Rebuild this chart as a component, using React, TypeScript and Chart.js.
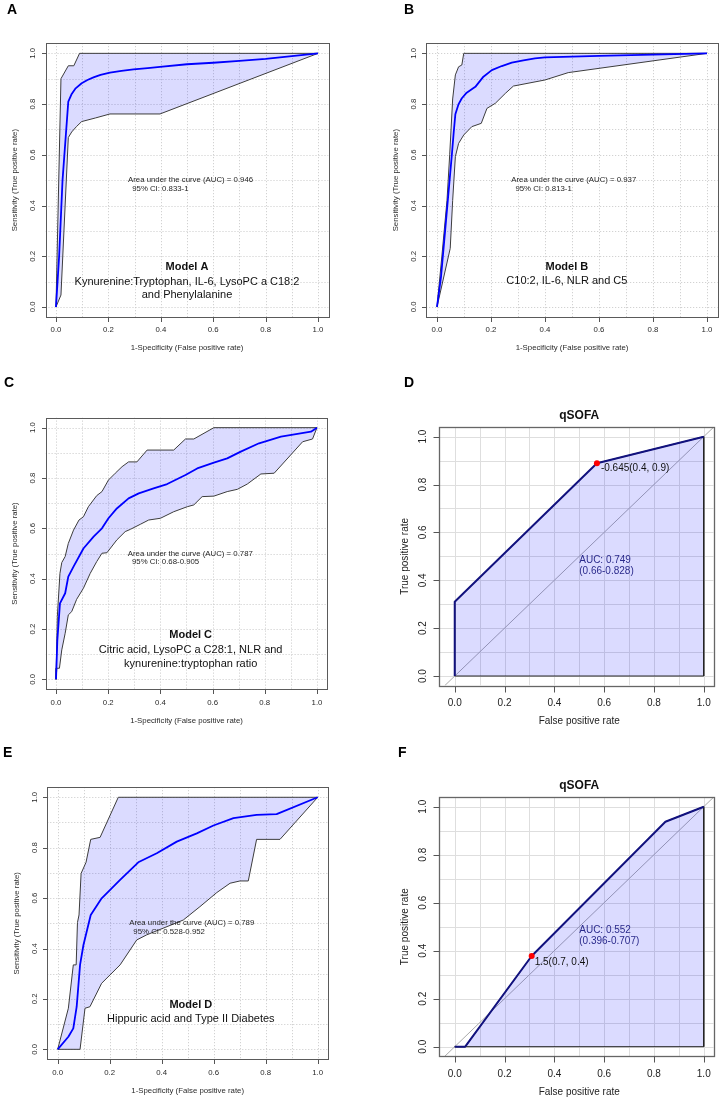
import React, { useEffect, useRef } from "react";
import { Chart, registerables } from "chart.js";
Chart.register(...registerables);

const SANS = '"Liberation Sans", Arial, Helvetica, sans-serif';
const PAGE_W = 724;
const PAGE_H = 1100;

// ---------- shared axis data ----------
const axisTicks = [0, 0.2, 0.4, 0.6, 0.8, 1.0];
const axisTickLabels = ["0.0", "0.2", "0.4", "0.6", "0.8", "1.0"];
const gridValues = [0, 0.1, 0.2, 0.3, 0.4, 0.5, 0.6, 0.7, 0.8, 0.9, 1.0];
const diagonalRef = [-0.04, 1.04];

// ---------- Model A ----------
const modelAMeanX = [0, 0.012, 0.025, 0.047, 0.06, 0.075, 0.098, 0.12, 0.143, 0.17, 0.206, 0.25, 0.296, 0.35, 0.397, 0.5, 0.6, 0.7, 0.8, 0.9, 1.0];
const modelAMeanY = [0, 0.2, 0.5, 0.81, 0.84, 0.862, 0.882, 0.895, 0.905, 0.915, 0.924, 0.931, 0.937, 0.942, 0.947, 0.957, 0.963, 0.97, 0.978, 0.989, 1.0];
const modelAUpperX = [0, 0.019, 0.047, 0.068, 0.09, 1.0];
const modelAUpperY = [0, 0.9, 0.951, 0.951, 1.0, 1.0];
const modelALowerX = [0, 0.019, 0.047, 0.06, 0.078, 0.098, 0.15, 0.206, 0.397, 1.0];
const modelALowerY = [0, 0.047, 0.668, 0.69, 0.711, 0.731, 0.745, 0.761, 0.761, 1.0];

// ---------- Model B ----------
const modelBMeanX = [0, 0.015, 0.03, 0.045, 0.055, 0.062, 0.068, 0.08, 0.092, 0.11, 0.142, 0.172, 0.203, 0.24, 0.277, 0.32, 0.363, 0.4, 0.5, 0.6, 0.8, 1.0];
const modelBMeanY = [0, 0.12, 0.3, 0.48, 0.6, 0.69, 0.76, 0.8, 0.823, 0.845, 0.868, 0.908, 0.934, 0.95, 0.963, 0.972, 0.98, 0.984, 0.987, 0.99, 0.995, 1.0];
const modelBUpperX = [0, 0.018, 0.037, 0.047, 0.058, 0.068, 0.08, 0.092, 0.099, 1.0];
const modelBUpperY = [0, 0.2, 0.42, 0.6, 0.82, 0.915, 0.947, 0.954, 1.0, 1.0];
const modelBLowerX = [0, 0.049, 0.058, 0.068, 0.08, 0.099, 0.129, 0.164, 0.185, 0.216, 0.253, 0.283, 0.4, 0.486, 1.0];
const modelBLowerY = [0, 0.231, 0.42, 0.593, 0.645, 0.678, 0.711, 0.724, 0.783, 0.803, 0.842, 0.871, 0.895, 0.924, 1.0];

// ---------- Model C ----------
const modelCMeanX = [0, 0.005, 0.015, 0.035, 0.047, 0.067, 0.105, 0.144, 0.176, 0.201, 0.233, 0.278, 0.317, 0.374, 0.426, 0.496, 0.541, 0.605, 0.656, 0.708, 0.778, 0.862, 0.977, 1.0];
const modelCMeanY = [0, 0.156, 0.302, 0.342, 0.408, 0.448, 0.52, 0.567, 0.6, 0.64, 0.679, 0.719, 0.739, 0.759, 0.776, 0.812, 0.838, 0.861, 0.878, 0.905, 0.938, 0.964, 0.984, 1.0];
const modelCUpperX = [0, 0.005, 0.015, 0.022, 0.035, 0.047, 0.067, 0.088, 0.105, 0.124, 0.156, 0.176, 0.201, 0.227, 0.253, 0.278, 0.31, 0.349, 0.451, 0.496, 0.528, 0.605, 1.0];
const modelCUpperY = [0, 0.25, 0.421, 0.464, 0.488, 0.54, 0.593, 0.633, 0.646, 0.686, 0.73, 0.746, 0.792, 0.819, 0.845, 0.864, 0.864, 0.911, 0.911, 0.955, 0.955, 1.0, 1.0];
const modelCLowerX = [0, 0.003, 0.013, 0.022, 0.035, 0.047, 0.06, 0.079, 0.105, 0.131, 0.156, 0.176, 0.195, 0.233, 0.265, 0.285, 0.323, 0.355, 0.4, 0.451, 0.503, 0.528, 0.56, 0.605, 0.656, 0.695, 0.733, 0.785, 0.836, 0.945, 0.983, 1.0];
const modelCLowerY = [0, 0.044, 0.044, 0.117, 0.183, 0.256, 0.269, 0.318, 0.362, 0.421, 0.468, 0.501, 0.503, 0.554, 0.587, 0.596, 0.616, 0.633, 0.64, 0.666, 0.686, 0.693, 0.726, 0.728, 0.746, 0.755, 0.776, 0.816, 0.819, 0.944, 0.955, 1.0];

// ---------- Model D (panel E) ----------
const modelDMeanX = [0, 0.041, 0.06, 0.073, 0.086, 0.099, 0.127, 0.169, 0.24, 0.31, 0.381, 0.458, 0.535, 0.599, 0.676, 0.765, 0.842, 1.0];
const modelDMeanY = [0, 0.05, 0.083, 0.169, 0.335, 0.414, 0.533, 0.599, 0.672, 0.742, 0.778, 0.824, 0.857, 0.888, 0.917, 0.93, 0.933, 1.0];
const modelDUpperX = [0, 0.041, 0.06, 0.071, 0.076, 0.082, 0.09, 0.109, 0.127, 0.163, 0.233, 1.0];
const modelDUpperY = [0, 0.163, 0.335, 0.335, 0.503, 0.533, 0.698, 0.742, 0.833, 0.841, 1.0, 1.0];
const modelDLowerX = [0, 0.086, 0.105, 0.124, 0.169, 0.24, 0.304, 0.342, 0.483, 0.547, 0.612, 0.663, 0.701, 0.733, 0.765, 0.855, 1.0];
const modelDLowerY = [0, 0, 0.163, 0.169, 0.262, 0.335, 0.434, 0.454, 0.513, 0.566, 0.622, 0.659, 0.668, 0.668, 0.833, 0.833, 1.0];

// ---------- qSOFA (panel D) ----------
const qsofaDFpr = [0, 0, 0.571, 1.0];
const qsofaDTpr = [0, 0.31, 0.889, 1.0];
const qsofaDBest = [0.571, 0.889];

// ---------- qSOFA (panel F) ----------
const qsofaFFpr = [0, 0.042, 0.309, 0.846, 1.0];
const qsofaFTpr = [0, 0, 0.378, 0.9375, 1.0];
const qsofaFBest = [0.309, 0.378];

// ---------- helpers ----------
const pts = (xs: number[], ys: number[]) => xs.map((x, i) => ({ x, y: ys[i] }));
const band = (ux: number[], uy: number[], lx: number[], ly: number[]) =>
  pts(ux, uy).concat(pts(lx, ly).reverse());
const underCurve = (xs: number[], ys: number[]) =>
  pts(xs, ys).concat([{ x: xs[xs.length - 1], y: 0 }, { x: xs[0], y: 0 }]);

const BAND_FILL = "rgba(0,0,255,0.14)";
const NAVY = "#12127e";

function cvDatasets(mx: number[], my: number[], ux: number[], uy: number[], lx: number[], ly: number[]) {
  return [
    { data: pts(mx, my), borderColor: "#0000ff", borderWidth: 1.8, fill: false, pointRadius: 0 },
    { data: band(ux, uy, lx, ly), borderColor: "#3c3c3c", borderWidth: 1, backgroundColor: BAND_FILL, fill: "shape", pointRadius: 0 },
  ];
}

function procDatasets(fx: number[], ty: number[], best: number[]) {
  return [
    { data: [{ x: best[0], y: best[1] }], showLine: false, pointRadius: 3, pointBackgroundColor: "#ff0000", pointBorderWidth: 0, borderColor: "#ff0000" },
    { data: pts(fx, ty), borderColor: NAVY, borderWidth: 2, fill: false, pointRadius: 0 },
    { data: underCurve(fx, ty), borderColor: "#222222", borderWidth: 1, backgroundColor: BAND_FILL, fill: "shape", pointRadius: 0 },
    { data: pts(diagonalRef, diagonalRef), borderColor: "#aaaaaa", borderWidth: 1, fill: false, pointRadius: 0 },
  ];
}

interface TextItem { text: string; x: number; y: number; dx?: number; dy?: number; font: string; color: string; align: CanvasTextAlign; }
interface Panel {
  id: string;
  box: { left: number; top: number; right: number; bottom: number };
  xMin: number; xMax: number; yMin: number; yMax: number;
  kind: "cv" | "proc";
  letter: string; letterX: number; letterY: number;
  title?: string;
  xTitle: string; yTitle: string;
  datasets: any[];
  texts: TextItem[];
}

const T = "#1e1e1e";
const small = `7.8px ${SANS}`;
const mid = `11px ${SANS}`;
const midB = `bold 11px ${SANS}`;
const pr = `10px ${SANS}`;
const AUCCOL = "#2a2a8c";

function cvTexts(auc: string, ci: string, mx: number, my: number, model: string, lines: string[], gaps: number[]): TextItem[] {
  const t: TextItem[] = [
    { text: auc, x: 0.275, y: 0.5, font: small, color: T, align: "left" },
    { text: " " + ci, x: 0.275, y: 0.5, dx: 2, dy: 8.3, font: small, color: T, align: "left" },
    { text: model, x: mx, y: my, font: midB, color: "#111", align: "center" },
  ];
  lines.forEach((l, i) => t.push({ text: l, x: mx, y: my, dy: gaps[i], font: mid, color: "#111", align: "center" }));
  return t;
}

const panels: Panel[] = [
  {
    id: "A",
    box: { left: 45.5, top: 43.2, right: 328.5, bottom: 317.1 },
    xMin: -0.04, xMax: 1.04, yMin: -0.04, yMax: 1.04, kind: "cv",
    letter: "A", letterX: 7, letterY: 10,
    xTitle: "1-Specificity (False positive rate)", yTitle: "Sensitivity (True positive rate)",
    datasets: cvDatasets(modelAMeanX, modelAMeanY, modelAUpperX, modelAUpperY, modelALowerX, modelALowerY),
    texts: cvTexts("Area under the curve (AUC) = 0.946", "95% CI: 0.833-1", 0.5, 0.159, "Model A",
      ["Kynurenine:Tryptophan, IL-6, LysoPC a C18:2", "and Phenylalanine"], [15, 28.5]),
  },
  {
    id: "B",
    box: { left: 426.2, top: 43.2, right: 717.8, bottom: 317.1 },
    xMin: -0.04, xMax: 1.04, yMin: -0.04, yMax: 1.04, kind: "cv",
    letter: "B", letterX: 404, letterY: 10,
    xTitle: "1-Specificity (False positive rate)", yTitle: "Sensitivity (True positive rate)",
    datasets: cvDatasets(modelBMeanX, modelBMeanY, modelBUpperX, modelBUpperY, modelBLowerX, modelBLowerY),
    texts: cvTexts("Area under the curve (AUC) = 0.937", "95% CI: 0.813-1", 0.481, 0.159, "Model B",
      ["C10:2, IL-6, NLR and C5"], [14]),
  },
  {
    id: "C",
    box: { left: 45.6, top: 417.6, right: 327.4, bottom: 689.4 },
    xMin: -0.04, xMax: 1.04, yMin: -0.04, yMax: 1.04, kind: "cv",
    letter: "C", letterX: 4, letterY: 383,
    xTitle: "1-Specificity (False positive rate)", yTitle: "Sensitivity (True positive rate)",
    datasets: cvDatasets(modelCMeanX, modelCMeanY, modelCUpperX, modelCUpperY, modelCLowerX, modelCLowerY),
    texts: cvTexts("Area under the curve (AUC) = 0.787", "95% CI: 0.68-0.905", 0.516, 0.176, "Model C",
      ["Citric acid, LysoPC a C28:1, NLR and", "kynurenine:tryptophan ratio"], [15, 28.5]),
  },
  {
    id: "D",
    box: { left: 439.3, top: 427.1, right: 713.7, bottom: 685.6 },
    xMin: -0.062, xMax: 1.04, yMin: -0.04, yMax: 1.04, kind: "proc",
    letter: "D", letterX: 404, letterY: 383, title: "qSOFA",
    xTitle: "False positive rate", yTitle: "True positive rate",
    datasets: procDatasets(qsofaDFpr, qsofaDTpr, qsofaDBest),
    texts: [
      { text: "-0.645(0.4, 0.9)", x: qsofaDBest[0], y: qsofaDBest[1], dx: 4, dy: 5, font: pr, color: "#111", align: "left" },
      { text: "AUC: 0.749", x: 0.5, y: 0.485, font: pr, color: AUCCOL, align: "left" },
      { text: "(0.66-0.828)", x: 0.5, y: 0.485, dy: 11.7, font: pr, color: AUCCOL, align: "left" },
    ],
  },
  {
    id: "E",
    box: { left: 47.3, top: 787.2, right: 328.1, bottom: 1059.4 },
    xMin: -0.04, xMax: 1.04, yMin: -0.04, yMax: 1.04, kind: "cv",
    letter: "E", letterX: 3, letterY: 753,
    xTitle: "1-Specificity (False positive rate)", yTitle: "Sensitivity (True positive rate)",
    datasets: cvDatasets(modelDMeanX, modelDMeanY, modelDUpperX, modelDUpperY, modelDLowerX, modelDLowerY),
    texts: cvTexts("Area under the curve (AUC) = 0.789", "95% CI: 0.528-0.952", 0.512, 0.176, "Model D",
      ["Hippuric acid and Type II Diabetes"], [14.3]),
  },
  {
    id: "F",
    box: { left: 439.3, top: 797.1, right: 713.7, bottom: 1056.3 },
    xMin: -0.062, xMax: 1.04, yMin: -0.04, yMax: 1.04, kind: "proc",
    letter: "F", letterX: 398, letterY: 753, title: "qSOFA",
    xTitle: "False positive rate", yTitle: "True positive rate",
    datasets: procDatasets(qsofaFFpr, qsofaFTpr, qsofaFBest),
    texts: [
      { text: "1.5(0.7, 0.4)", x: qsofaFBest[0], y: qsofaFBest[1], dx: 3, dy: 6, font: pr, color: "#111", align: "left" },
      { text: "AUC: 0.552", x: 0.5, y: 0.486, font: pr, color: AUCCOL, align: "left" },
      { text: "(0.396-0.707)", x: 0.5, y: 0.486, dy: 10.7, font: pr, color: AUCCOL, align: "left" },
    ],
  },
];

function makeDecor(p: Panel) {
  const cv = p.kind === "cv";
  const st = cv
    ? { tickLen: 4.5, tickCol: "#555", box: "#5a5a5a", boxW: 1, tickFont: `7.8px ${SANS}`, titleFont: `7.8px ${SANS}`, xLab: 13, xTit: 31, yLab: 12.5, yTit: 30.5, col: "#2a2a2a" }
    : { tickLen: 6, tickCol: "#555", box: "#666", boxW: 1.3, tickFont: `10px ${SANS}`, titleFont: `10px ${SANS}`, xLab: 17.5, xTit: 35.5, yLab: 16.3, yTit: 34, col: "#222" };
  return {
    id: "decor" + p.id,
    beforeDatasetsDraw(chart: any) {
      const { ctx, chartArea: a, scales } = chart;
      const xs = scales.x, ys = scales.y;
      ctx.save();
      ctx.beginPath();
      ctx.rect(a.left, a.top, a.right - a.left, a.bottom - a.top);
      ctx.clip();
      ctx.lineWidth = 1;
      if (cv) { ctx.strokeStyle = "#c8c8c8"; ctx.setLineDash([1, 2]); }
      else { ctx.strokeStyle = "#dedede"; ctx.setLineDash([]); }
      for (const v of gridValues) {
        const px = Math.round(xs.getPixelForValue(v)) + 0.5;
        ctx.beginPath(); ctx.moveTo(px, a.top); ctx.lineTo(px, a.bottom); ctx.stroke();
        const py = Math.round(ys.getPixelForValue(v)) + 0.5;
        ctx.beginPath(); ctx.moveTo(a.left, py); ctx.lineTo(a.right, py); ctx.stroke();
      }
      ctx.restore();
    },
    afterDraw(chart: any) {
      const { ctx, chartArea: a, scales } = chart;
      const xs = scales.x, ys = scales.y;
      ctx.save();
      // box
      ctx.strokeStyle = st.box;
      ctx.lineWidth = st.boxW;
      const bl = Math.round(a.left) + 0.5, bt = Math.round(a.top) + 0.5;
      const br = Math.round(a.right) + 0.5, bb = Math.round(a.bottom) + 0.5;
      ctx.strokeRect(bl, bt, br - bl, bb - bt);
      // tick marks
      ctx.strokeStyle = st.tickCol;
      ctx.lineWidth = 1;
      for (const v of axisTicks) {
        const px = Math.round(xs.getPixelForValue(v)) + 0.5;
        ctx.beginPath(); ctx.moveTo(px, bb); ctx.lineTo(px, bb + st.tickLen); ctx.stroke();
        const py = Math.round(ys.getPixelForValue(v)) + 0.5;
        ctx.beginPath(); ctx.moveTo(bl, py); ctx.lineTo(bl - st.tickLen, py); ctx.stroke();
      }
      // tick labels
      ctx.fillStyle = st.col;
      ctx.font = st.tickFont;
      ctx.textAlign = "center";
      ctx.textBaseline = "middle";
      axisTicks.forEach((v, i) => {
        ctx.fillText(axisTickLabels[i], xs.getPixelForValue(v), a.bottom + st.xLab);
        ctx.save();
        ctx.translate(a.left - st.yLab, ys.getPixelForValue(v));
        ctx.rotate(-Math.PI / 2);
        ctx.fillText(axisTickLabels[i], 0, 0);
        ctx.restore();
      });
      // axis titles
      ctx.font = st.titleFont;
      ctx.fillText(p.xTitle, xs.getPixelForValue(0.5), a.bottom + st.xTit);
      ctx.save();
      ctx.translate(a.left - st.yTit, ys.getPixelForValue(0.5));
      ctx.rotate(-Math.PI / 2);
      ctx.fillText(p.yTitle, 0, 0);
      ctx.restore();
      // main title
      if (p.title) {
        ctx.font = `bold 12px ${SANS}`;
        ctx.fillStyle = "#111";
        ctx.fillText(p.title, xs.getPixelForValue(0.5), a.top - 11.5);
      }
      // annotations
      for (const t of p.texts) {
        ctx.font = t.font;
        ctx.fillStyle = t.color;
        ctx.textAlign = t.align;
        ctx.fillText(t.text, xs.getPixelForValue(t.x) + (t.dx || 0), ys.getPixelForValue(t.y) + (t.dy || 0));
      }
      // panel letter
      ctx.font = `bold 14px ${SANS}`;
      ctx.fillStyle = "#000";
      ctx.textAlign = "left";
      ctx.fillText(p.letter, p.letterX, p.letterY);
      ctx.restore();
    },
  };
}

function PanelChart({ p }: { p: Panel }) {
  const ref = useRef<HTMLCanvasElement>(null);
  useEffect(() => {
    const chart = new Chart(ref.current as HTMLCanvasElement, {
      type: "line",
      data: { datasets: p.datasets as any },
      options: {
        responsive: false,
        animation: false,
        events: [],
        devicePixelRatio: 1,
        layout: {
          padding: {
            left: p.box.left,
            top: p.box.top,
            right: PAGE_W - p.box.right,
            bottom: PAGE_H - p.box.bottom,
          },
        },
        plugins: { legend: { display: false }, tooltip: { enabled: false }, title: { display: false } },
        scales: {
          x: { type: "linear", min: p.xMin, max: p.xMax, display: false },
          y: { type: "linear", min: p.yMin, max: p.yMax, display: false },
        },
        elements: { line: { tension: 0, borderJoinStyle: "round" } },
      } as any,
      plugins: [makeDecor(p)],
    });
    return () => chart.destroy();
  }, [p]);
  return (
    <canvas
      ref={ref}
      width={PAGE_W}
      height={PAGE_H}
      style={{ position: "absolute", left: 0, top: 0, width: PAGE_W, height: PAGE_H }}
    />
  );
}

export default function App() {
  return (
    <div style={{ position: "absolute", left: 0, top: 0, width: PAGE_W, height: PAGE_H, background: "#fff", overflow: "hidden" }}>
      {panels.map((p) => (
        <PanelChart key={p.id} p={p} />
      ))}
    </div>
  );
}
